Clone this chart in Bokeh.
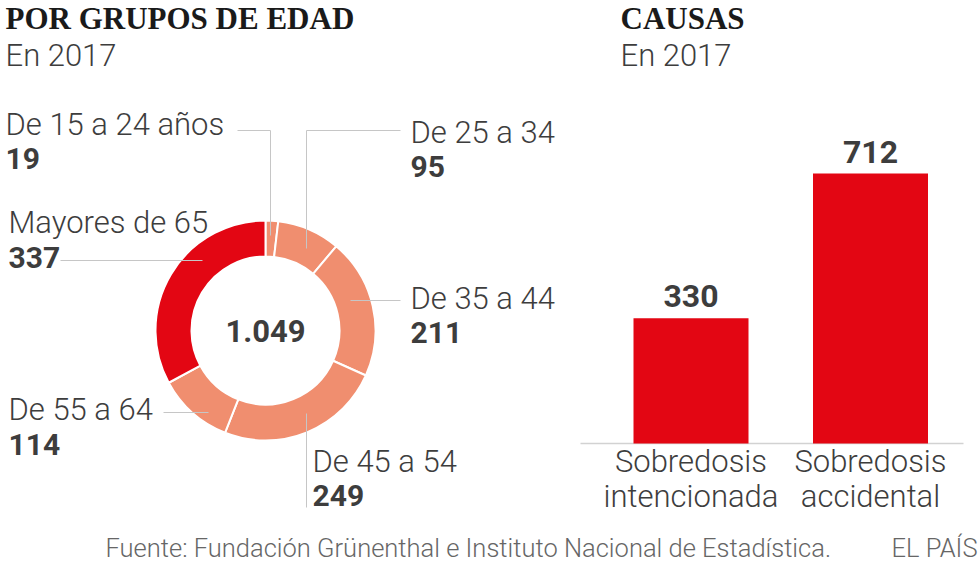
import numpy as np
from bokeh.plotting import figure
from bokeh.models import Range1d
from bokeh.core.properties import value
from bokeh.embed import file_html
from bokeh.resources import INLINE

# ---------------- data ----------------
age_groups = ["De 15 a 24 años", "De 25 a 34", "De 35 a 44", "De 45 a 54", "De 55 a 64", "Mayores de 65"]
age_values = [19, 95, 211, 249, 114, 337]
total_label = "1.049"
causes = ["Sobredosis\nintencionada", "Sobredosis\naccidental"]
cause_values = [330, 712]
title_left = "POR GRUPOS DE EDAD"
title_right = "CAUSAS"
subtitle = "En 2017"
source = "Fuente: Fundación Grünenthal e Instituto Nacional de Estadística."
brand = "EL PAÍS"

# ---------------- style ----------------
RED = "#E30613"
SALMON = "#F08E6F"
age_colors = [SALMON, SALMON, SALMON, SALMON, SALMON, RED]
TXT = "#3d3d3d"
LINE = "#c6c6c6"
LIGHT = value("Roboto Light")
BOLD = value("Roboto")
SERIF = value("Liberation Serif")


def sh(size):
    # correction so that text lands on the wanted alphabetic baseline
    return 0.34 * size


W, H = 980, 568
X0, X1, Y0, Y1 = 0, W, 0, H  # reference pixel frame

p = figure(width=W, height=H, x_range=Range1d(X0, X1), y_range=Range1d(Y1, Y0),
           output_backend="svg", toolbar_location=None,
           x_axis_location=None, y_axis_location=None, min_border=0)
p.grid.visible = False
p.outline_line_color = None
p.background_fill_color = "white"

# donut ranges (pixel units centred on donut)
cx, cy = 265, 330
p.extra_x_ranges["dx"] = Range1d(X0 - cx, X1 - cx)
p.extra_y_ranges["dy"] = Range1d(cy - Y1, cy - Y0)

vals = np.array(age_values, dtype=float)
tot = vals.sum()
cum = np.cumsum(vals)
prev = cum - vals
start = np.pi / 2 - 2 * np.pi * prev / tot
end = np.pi / 2 - 2 * np.pi * cum / tot
p.annular_wedge(x=0, y=0, inner_radius=74, outer_radius=110,
                start_angle=start, end_angle=end, direction="clock",
                fill_color=age_colors, line_color="white", line_width=2,
                x_range_name="dx", y_range_name="dy")

p.text(x=[0], y=[0], text=[total_label], x_range_name="dx", y_range_name="dy",
       text_font=BOLD, text_font_style="bold", text_font_size="31px",
       text_color=TXT, text_align="center", text_baseline="middle")

# leader lines (reference pixel coords)
segs = [((237, 130), (270, 130)), ((270, 130), (270, 235)),
        ((400, 130), (306, 130)), ((306, 130), (306, 248)),
        ((400, 300), (350, 300)),
        ((60, 260), (202, 260)),
        ((163, 412), (208, 412)),
        ((306, 413), (306, 507))]
p.segment(x0=[s[0][0] for s in segs], y0=[s[0][1] for s in segs],
          x1=[s[1][0] for s in segs], y1=[s[1][1] for s in segs],
          line_color=LINE, line_width=1)

# donut labels: (x, name baseline, value baseline)
label_pos = [(5, 135, 168), (410, 143, 176), (410, 309, 342),
             (312, 472, 505), (8, 420, 454), (8, 233, 267)]
LS, BS = 31, 30
p.text(x=[lp[0] for lp in label_pos], y=[lp[1] - sh(LS) for lp in label_pos], text=age_groups,
       text_font=LIGHT, text_font_size=f"{LS}px", text_color=TXT,
       text_baseline="alphabetic", text_align="left")
p.text(x=[lp[0] for lp in label_pos], y=[lp[2] - sh(BS) for lp in label_pos],
       text=[str(v) for v in age_values],
       text_font=BOLD, text_font_style="bold", text_font_size=f"{BS}px", text_color=TXT,
       text_baseline="alphabetic", text_align="left")

# titles
TS = 31
p.text(x=[5, 620], y=[29 - sh(TS)] * 2, text=[title_left, title_right],
       text_font=SERIF, text_font_style="bold", text_font_size=f"{TS}px",
       text_color="#1a1a1a", text_baseline="alphabetic")
p.text(x=[5, 620], y=[66 - sh(LS)] * 2, text=[subtitle, subtitle],
       text_font=LIGHT, text_font_size=f"{LS}px", text_color=TXT,
       text_baseline="alphabetic")

# bar chart ranges
bx = np.arange(len(causes))
c0, c1 = 690.5, 870.0
ux = c1 - c0
p.extra_x_ranges["bx"] = Range1d(-(c0 - X0) / ux, (X1 - c0) / ux)
base = 443.0
ky = (443 - 173) / 712.0
p.extra_y_ranges["by"] = Range1d(-(Y1 - base) / ky, (base - Y0) / ky)

p.segment(x0=[580], y0=[base], x1=[963], y1=[base], line_color="#d2d2d2", line_width=1.5)
p.vbar(x=bx, top=cause_values, bottom=0, width=115 / ux, fill_color=RED, line_color=None,
       x_range_name="bx", y_range_name="by")
p.text(x=bx, y=cause_values, text=[str(v) for v in cause_values],
       x_range_name="bx", y_range_name="by", y_offset=-11 - sh(32),
       text_font=BOLD, text_font_style="bold", text_font_size="32px", text_color=TXT,
       text_align="center", text_baseline="alphabetic")
line1 = [c.split("\n")[0] for c in causes]
line2 = [c.split("\n")[1] for c in causes]
p.text(x=bx, y=[0] * len(bx), text=line1, x_range_name="bx", y_range_name="by",
       y_offset=29 - sh(LS),
       text_font=LIGHT, text_font_size=f"{LS}px", text_color=TXT,
       text_align="center", text_baseline="alphabetic")
p.text(x=bx, y=[0] * len(bx), text=line2, x_range_name="bx", y_range_name="by",
       y_offset=64 - sh(LS),
       text_font=LIGHT, text_font_size=f"{LS}px", text_color=TXT,
       text_align="center", text_baseline="alphabetic")

# footer
FS = 25.5
p.text(x=[105], y=[556 - sh(FS)], text=[source], text_font=LIGHT, text_font_size=f"{FS}px",
       text_color="#666666", text_baseline="alphabetic")
p.text(x=[977], y=[556 - sh(FS)], text=[brand], text_font=LIGHT, text_font_size=f"{FS}px",
       text_color="#666666", text_baseline="alphabetic", text_align="right")

open("out.html", "w").write(file_html(p, INLINE))
